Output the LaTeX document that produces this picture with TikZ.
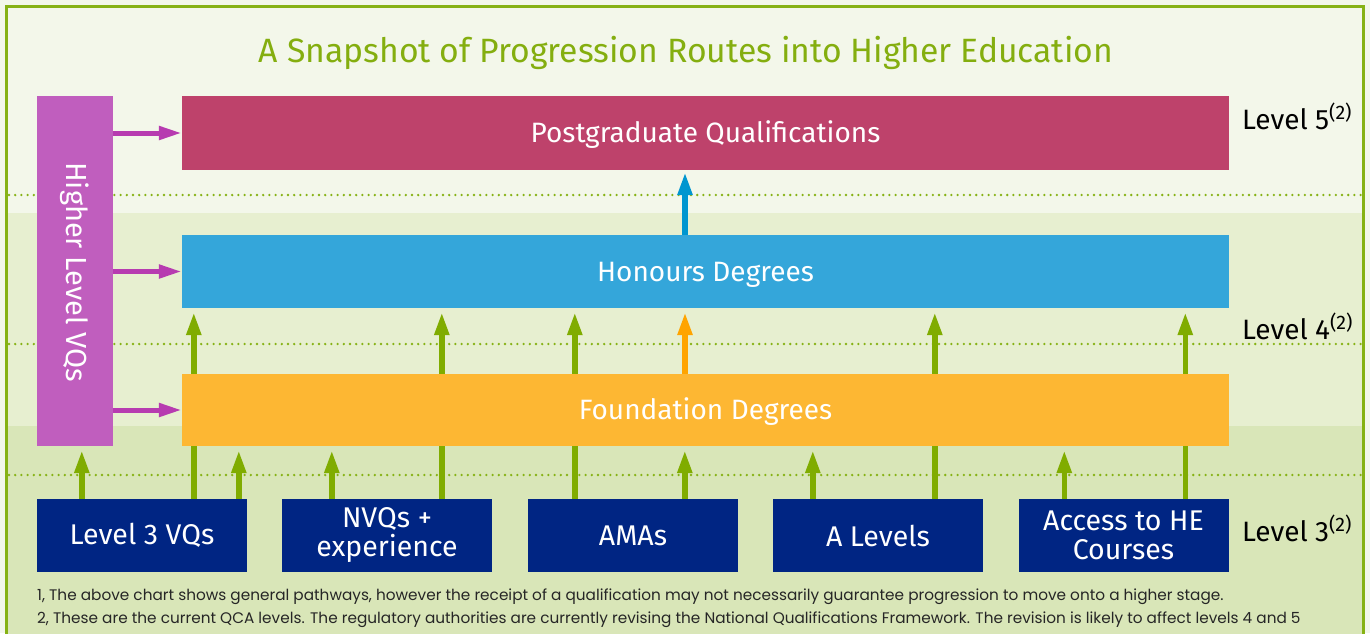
\documentclass[tikz,border=0pt]{standalone}
\usepackage{fontspec}
\setmainfont{Fira Sans}
\newfontfamily\notefont{Poppins}
\usetikzlibrary{arrows.meta}
\definecolor{bandA}{HTML}{F3F7EA}
\definecolor{bandB}{HTML}{E7EFD0}
\definecolor{bandC}{HTML}{D9E6B8}
\definecolor{frameGreen}{HTML}{86B214}
\definecolor{titleGreen}{HTML}{84AE0F}
\definecolor{vqPurple}{HTML}{C05EBE}
\definecolor{pgRed}{HTML}{BE426B}
\definecolor{honBlue}{HTML}{34A6DA}
\definecolor{fdOrange}{HTML}{FDB733}
\definecolor{navy}{HTML}{002583}
\definecolor{arrGreen}{HTML}{80AC00}
\definecolor{arrMagenta}{HTML}{B73BB0}
\definecolor{arrBlue}{HTML}{0096D0}
\definecolor{arrOrange}{HTML}{FFA400}
\pgfdeclarelayer{back}
\pgfdeclarelayer{links}
\pgfsetlayers{back,links,main}
\tikzset{
  bar/.style={rectangle, inner sep=0pt, minimum width=1047pt, text=white, text height=19.3pt, text depth=0pt,
    font=\fontsize{28}{30}\selectfont},
  qualbox/.style={rectangle, fill=navy, inner sep=0pt, minimum width=210pt, minimum height=73pt,
    text=white, align=center, font=\fontsize{28.5}{29}\selectfont},
  levellabel/.style={anchor=base west, inner sep=0pt, font=\fontsize{28}{30}\selectfont},
  uparrow/.style={line width=5.5pt, -{Triangle[length=23pt,width=14pt]}, shorten >=4pt},
  sidearrow/.style={line width=5pt, color=arrMagenta, -{Triangle[length=23pt,width=13pt]}},
  guide/.style={frameGreen, line width=2.6pt, line cap=round, dash pattern=on 0pt off 6.2pt},
  note/.style={anchor=base west, inner sep=0pt, text=black!85, font=\notefont\fontsize{15.3}{18}\selectfont}
}
\begin{document}
\begin{tikzpicture}[x=1pt, y=-1pt]
\useasboundingbox (0,0) rectangle (1370,633);
\begin{pgfonlayer}{back}
  \clip (0,0) rectangle (1370,633);
  \fill[bandA] (0,0) rectangle (1370,633);
  \fill[bandB] (8,213) rectangle (1362,426);
  \fill[bandC] (8,426) rectangle (1362,640);
  \draw[guide] (9,195) -- (1361,195);
  \draw[guide] (9,344) -- (1361,344);
  \draw[guide] (9,475) -- (1361,475);
  \draw[frameGreen, line width=3pt] (6.5,645) -- (6.5,6) -- (1363.5,6) -- (1363.5,645);
\end{pgfonlayer}

% title
\node[anchor=base, inner sep=0pt, text=titleGreen, font=\fontsize{33.7}{38}\selectfont] (title) at (686,62)
  {A Snapshot of Progression Routes into Higher Education};

% side column
\node[rectangle, fill=vqPurple, inner sep=0pt, minimum width=76pt, minimum height=350pt] (vq) at (75,271) {};
\node[rotate=-90, text=white, inner sep=0pt, font=\fontsize{29}{30}\selectfont] (vqtext) at (75,272) {Higher Level VQs};

% level bars
\node[bar, fill=pgRed, minimum height=74pt] (pg) at (705.5,133) {Postgraduate Qualifications};
\node[bar, fill=honBlue, minimum height=73pt] (hon) at (705.5,271.5) {Honours Degrees};
\node[bar, fill=fdOrange, minimum height=72pt] (fd) at (705.5,410) {Foundation Degrees};

% entry qualifications
\node[qualbox] (l3) at (142,535.5) {Level 3 VQs};
\node[qualbox] (nvq) at (387,535.5) {NVQs +\\experience};
\node[qualbox] (ama) at (633,535.5) {AMAs};
\node[qualbox] (al) at (878,535.5) {A Levels};
\node[qualbox] (acc) at (1123.5,535.5) {Access to HE\\Courses};

% level labels
\node[levellabel] (lv5) at (1242,129) {Level 5\textsuperscript{(2)}};
\node[levellabel] (lv4) at (1242,339) {Level 4\textsuperscript{(2)}};
\node[levellabel] (lv3) at (1242,541) {Level 3\textsuperscript{(2)}};

% footnotes
\node[note] (n1) at (37,600) {1, The above chart shows general pathways, however the receipt of a qualification may not necessarily guarantee progression to move onto a higher stage.};
\node[note] (n2) at (37,623) {2, These are the current QCA levels. The regulatory authorities are currently revising the National Qualifications Framework. The revision is likely to affect levels 4 and 5};

% connectors
\begin{pgfonlayer}{links}
  % side column into each bar
  \draw[sidearrow] (vq.east |- pg) -- (pg.west);
  \draw[sidearrow] (vq.east |- hon) -- (hon.west);
  \draw[sidearrow] (vq.east |- fd) -- (fd.west);
  % between bars
  \draw[uparrow, arrBlue, shorten >=2pt] ([xshift=-20.5pt]hon.north) coordinate (b1) -- (b1 |- pg.south);
  \draw[uparrow, arrOrange] ([xshift=-20.5pt]fd.north) coordinate (o1) -- (o1 |- hon.south);
  % long routes straight to honours
  \draw[uparrow, arrGreen] ([xshift=157pt]l3.north west) coordinate (g1) -- (g1 |- hon.south);
  \draw[uparrow, arrGreen] ([xshift=160pt]nvq.north west) coordinate (g2) -- (g2 |- hon.south);
  \draw[uparrow, arrGreen] ([xshift=47pt]ama.north west) coordinate (g3) -- (g3 |- hon.south);
  \draw[uparrow, arrGreen] ([xshift=162pt]al.north west) coordinate (g4) -- (g4 |- hon.south);
  \draw[uparrow, arrGreen] ([xshift=167pt]acc.north west) coordinate (g5) -- (g5 |- hon.south);
  % short routes into foundation degrees / side column
  \draw[uparrow, arrGreen] ([xshift=45pt]l3.north west) coordinate (f0) -- (f0 |- vq.south);
  \draw[uparrow, arrGreen] ([xshift=202pt]l3.north west) coordinate (f1) -- (f1 |- fd.south);
  \draw[uparrow, arrGreen] ([xshift=50pt]nvq.north west) coordinate (f2) -- (f2 |- fd.south);
  \draw[uparrow, arrGreen] ([xshift=157pt]ama.north west) coordinate (f3) -- (f3 |- fd.south);
  \draw[uparrow, arrGreen] ([xshift=40pt]al.north west) coordinate (f4) -- (f4 |- fd.south);
  \draw[uparrow, arrGreen] ([xshift=46pt]acc.north west) coordinate (f5) -- (f5 |- fd.south);
\end{pgfonlayer}
\end{tikzpicture}
\end{document}
